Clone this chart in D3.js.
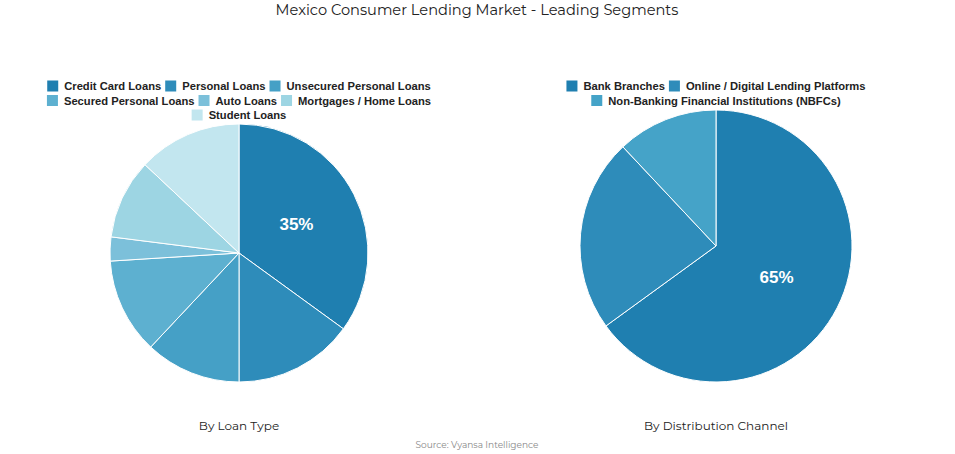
<!DOCTYPE html>
<html><head><meta charset="utf-8">
<script src="https://cdn.jsdelivr.net/npm/d3@7"></script>
<style>body{margin:0;background:#fff}svg{display:block}</style>
</head><body><svg id="c" width="955" height="454"></svg>
<script>
const loanTypes = ["Credit Card Loans","Personal Loans","Unsecured Personal Loans","Secured Personal Loans","Auto Loans","Mortgages / Home Loans","Student Loans"];
const loanValues = [35,15,12,12,3,10,13];
const loanColors = ["#1f7fb0","#2e8cba","#45a0c6","#5db0d0","#7cc0da","#9dd5e3","#c2e6ef"];
const channels = ["Bank Branches","Online / Digital Lending Platforms","Non-Banking Financial Institutions (NBFCs)"];
const channelValues = [65,23,12];
const channelColors = ["#1f7fb0","#2e8cba","#45a3c8"];
const title = "Mexico Consumer Lending Market - Leading Segments";
const subtitles = ["By Loan Type","By Distribution Channel"];
const source = "Source: Vyansa Intelligence";

const svg = d3.select("#c");
const titleFont = "Montserrat, 'Noto Sans', 'Open Sans', sans-serif";
svg.append("text").attr("x",477).attr("y",15).attr("text-anchor","middle")
  .style("font-family",titleFont).style("font-size","14.6px").attr("fill","#222").text(title);

function legend(cx, y0, names, colors, maxW){
  const g = svg.append("g");
  const items = names.map((n,i)=>{
    const t = g.append("text").style("font-family","'Liberation Sans', Arial, sans-serif")
      .style("font-weight","bold").style("font-size","11.2px").attr("fill","#222").text(n);
    return {t, w: t.node().getComputedTextLength() + 17, c: colors[i]};
  });
  const gap = 4;
  const rows = []; let cur = [], cw = 0;
  items.forEach(it=>{
    if(cur.length && cw + gap + it.w > maxW){ rows.push({items:cur,w:cw}); cur=[]; cw=0; }
    cw += (cur.length?gap:0) + it.w; cur.push(it);
  });
  if(cur.length) rows.push({items:cur,w:cw});
  rows.forEach((r,ri)=>{
    let x = cx - r.w/2; const y = y0 + ri*14.5;
    r.items.forEach(it=>{
      g.append("rect").attr("x",x).attr("y",y-5.5).attr("width",11).attr("height",11).attr("fill",it.c);
      it.t.attr("x",x+17).attr("y",y+4);
      x += it.w + gap;
    });
  });
}

function pie(cx, cy, r, values, colors){
  const arcs = d3.pie().sort(null).value(d=>d)(values);
  const arc = d3.arc().innerRadius(0).outerRadius(r);
  const g = svg.append("g").attr("transform",`translate(${cx},${cy})`);
  g.selectAll("path").data(arcs).join("path").attr("d",arc)
    .attr("fill",(d,i)=>colors[i]).attr("stroke","#fff").attr("stroke-width",1);
  const total = d3.sum(values);
  const la = d3.arc().innerRadius(r/2).outerRadius(r/2);
  arcs.forEach(d=>{
    if(d.value/total >= 0.3){
      const [x,y] = la.centroid({startAngle:d.startAngle,endAngle:d.endAngle});
      g.append("text").attr("x",x).attr("y",y).attr("text-anchor","middle").attr("dy","0.35em")
        .style("font-family","'Liberation Sans', Arial, sans-serif").style("font-weight","bold")
        .style("font-size","17px").attr("fill","#fff").text(Math.round(d.value/total*100)+"%");
    }
  });
}

legend(239, 86, loanTypes, loanColors, 400);
legend(716, 86, channels, channelColors, 320);
pie(239, 253, 129, loanValues, loanColors);
pie(716, 246, 136, channelValues, channelColors);

[[239,subtitles[0]],[716,subtitles[1]]].forEach(([x,t])=>{
  svg.append("text").attr("x",x).attr("y",430).attr("text-anchor","middle")
    .style("font-family",titleFont).style("font-size","12px").attr("fill","#222").text(t);
});
svg.append("text").attr("x",477).attr("y",448).attr("text-anchor","middle")
  .style("font-family",titleFont).style("font-size","9px").attr("fill","#888").text(source);
</script></body></html>
